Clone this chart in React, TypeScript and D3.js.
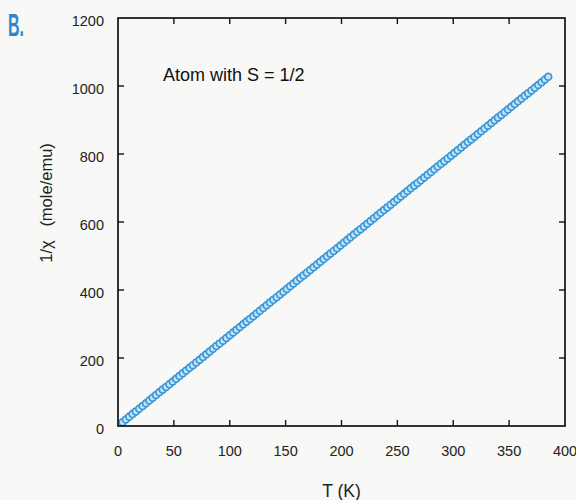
import React from "react";
import * as d3 from "d3";

const temperatures: number[] = [
  4, 7, 10, 13, 16, 19, 22, 25, 28, 31, 34, 37, 40, 43, 46, 49,
  52, 55, 58, 61, 64, 67, 70, 73, 76, 79, 82, 85, 88, 91, 94, 97,
  100, 103, 106, 109, 112, 115, 118, 121, 124, 127, 130, 133, 136, 139, 142, 145,
  148, 151, 154, 157, 160, 163, 166, 169, 172, 175, 178, 181, 184, 187, 190, 193,
  196, 199, 202, 205, 208, 211, 214, 217, 220, 223, 226, 229, 232, 235, 238, 241,
  244, 247, 250, 253, 256, 259, 262, 265, 268, 271, 274, 277, 280, 283, 286, 289,
  292, 295, 298, 301, 304, 307, 310, 313, 316, 319, 322, 325, 328, 331, 334, 337,
  340, 343, 346, 349, 352, 355, 358, 361, 364, 367, 370, 373, 376, 379, 382, 385,
];

const invChi: number[] = [
  11, 19, 27, 35, 43, 51, 59, 67, 75, 83, 91, 99, 107, 115, 123, 131,
  139, 147, 155, 163, 171, 179, 187, 195, 203, 211, 219, 227, 235, 243, 251, 259,
  267, 275, 283, 291, 299, 307, 315, 323, 331, 339, 347, 355, 363, 371, 379, 387,
  395, 403, 411, 419, 427, 435, 443, 451, 459, 467, 475, 483, 491, 499, 507, 515,
  523, 531, 539, 547, 555, 563, 571, 579, 587, 595, 603, 611, 619, 627, 635, 643,
  651, 659, 667, 675, 683, 691, 699, 707, 715, 723, 731, 739, 747, 755, 763, 771,
  779, 787, 795, 803, 811, 819, 827, 835, 843, 851, 859, 867, 875, 883, 891, 899,
  907, 915, 923, 931, 939, 947, 955, 963, 971, 979, 987, 995, 1003, 1011, 1019, 1027,
];

const xTicks: number[] = [0, 50, 100, 150, 200, 250, 300, 350, 400];
const yTicks: number[] = [0, 200, 400, 600, 800, 1000, 1200];

const panelLabel = "B.";
const annotation = "Atom with S = 1/2";
const xTitle = "T (K)";
const yTitle = "1/\u03C7   (mole/emu)";

export default function App() {
  const W = 576;
  const H = 500;
  const left = 118;
  const right = 565;
  const top = 18;
  const bottom = 426;
  const x = d3.scaleLinear().domain([0, 400]).range([left, right]);
  const y = d3.scaleLinear().domain([0, 1200]).range([bottom, top]);
  const font = "'Liberation Sans', Arial, Helvetica, sans-serif";
  const tickLen = 6;
  const inner = (v: number, arr: number[]) => v !== arr[0] && v !== arr[arr.length - 1];
  const pts = temperatures.map((t, i) => ({ t, v: invChi[i] }));

  return (
    <svg
      width={W}
      height={H}
      style={{ position: "absolute", left: 0, top: 0, background: "#f8f8f6" }}
    >
      <rect x={0} y={0} width={W} height={H} fill="#f8f8f6" />
      <text
        x={8}
        y={36}
        fill="#2f86cf"
        fontFamily={font}
        fontWeight="bold"
        fontSize={32}
        transform="translate(8,36) scale(0.5,1) translate(-8,-36)"
      >
        {panelLabel}
      </text>

      {/* data */}
      <g>
        {pts.map((p, i) => (
          <circle
            key={i}
            cx={x(p.t)}
            cy={y(p.v)}
            r={3.4}
            fill="#c4e3f6"
            stroke="#3797d8"
            strokeWidth={1.7}
          />
        ))}
      </g>

      {/* frame */}
      <rect
        x={left}
        y={top}
        width={right - left}
        height={bottom - top}
        fill="none"
        stroke="#111"
        strokeWidth={1.7}
      />

      {/* x ticks */}
      {xTicks.filter((v) => inner(v, xTicks)).map((v) => (
        <g key={"xt" + v}>
          <line x1={x(v)} x2={x(v)} y1={bottom} y2={bottom - tickLen} stroke="#111" strokeWidth={1.4} />
          <line x1={x(v)} x2={x(v)} y1={top} y2={top + tickLen} stroke="#111" strokeWidth={1.4} />
        </g>
      ))}
      {xTicks.map((v) => (
        <text
          key={"xl" + v}
          x={x(v)}
          y={456}
          textAnchor="middle"
          fontFamily={font}
          fontSize={14.5}
          fill="#222"
        >
          {v}
        </text>
      ))}

      {/* y ticks */}
      {yTicks.filter((v) => inner(v, yTicks)).map((v) => (
        <g key={"yt" + v}>
          <line x1={left} x2={left + tickLen} y1={y(v)} y2={y(v)} stroke="#111" strokeWidth={1.4} />
          <line x1={right} x2={right - tickLen} y1={y(v)} y2={y(v)} stroke="#111" strokeWidth={1.4} />
        </g>
      ))}
      {yTicks.map((v) => (
        <text
          key={"yl" + v}
          x={104}
          y={y(v) + 7.5}
          textAnchor="end"
          fontFamily={font}
          fontSize={14.5}
          fill="#222"
        >
          {v}
        </text>
      ))}

      {/* annotation */}
      <text x={163} y={81} fontFamily={font} fontSize={18} fill="#111">
        {annotation}
      </text>

      {/* axis titles */}
      <text
        x={(left + right) / 2}
        y={497}
        textAnchor="middle"
        fontFamily={font}
        fontSize={17.5}
        fill="#222"
      >
        {xTitle}
      </text>
      <text
        transform="translate(52,203) rotate(-90)"
        textAnchor="middle"
        fontFamily={font}
        fontSize={16.5}
        fill="#222"
        style={{ whiteSpace: "pre" }}
      >
        {yTitle}
      </text>
    </svg>
  );
}
